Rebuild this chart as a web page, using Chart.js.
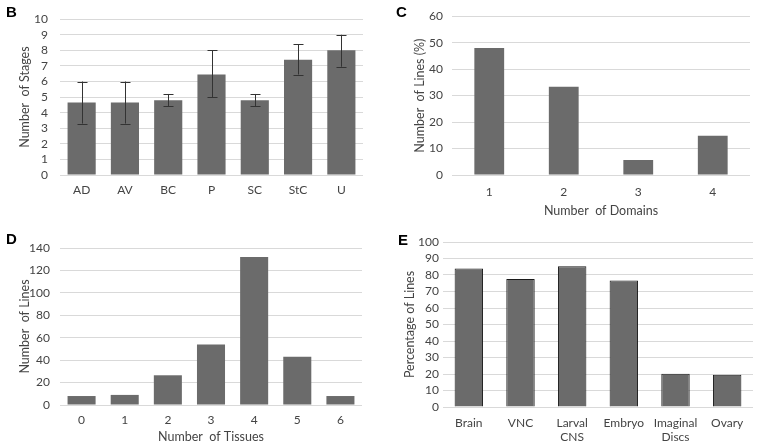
<!DOCTYPE html>
<html>
<head>
<meta charset="utf-8">
<script src="https://cdn.jsdelivr.net/npm/chart.js@4.4.0/dist/chart.umd.min.js"></script>
<style>
  body { margin: 0; background: #fff; }
  .panel { position: absolute; }
  .tag { position: absolute; font: bold 15px "Liberation Sans", Arial, sans-serif; color: #000; }
</style>
</head>
<body>
<div class="panel" style="left:0;top:0;width:378px;height:220px"><canvas id="chartB"></canvas></div>
<div class="panel" style="left:380px;top:0;width:377px;height:220px"><canvas id="chartC"></canvas></div>
<div class="panel" style="left:0;top:220px;width:378px;height:227px"><canvas id="chartD"></canvas></div>
<div class="panel" style="left:380px;top:220px;width:377px;height:227px"><canvas id="chartE"></canvas></div>
<div class="tag" style="left:6px;top:3px">B</div>
<div class="tag" style="left:396px;top:3px">C</div>
<div class="tag" style="left:6px;top:230px">D</div>
<div class="tag" style="left:398px;top:231px">E</div>
<script>
// panel B - stages per category, with error bars
const stageCats = ["AD", "AV", "BC", "P", "SC", "StC", "U"];
const stageMeans = [4.65, 4.65, 4.8, 6.45, 4.8, 7.4, 8.0];
const stageLow = [3.3, 3.3, 4.4, 5.0, 4.4, 6.45, 6.95];
const stageHigh = [6.0, 6.0, 5.2, 8.0, 5.2, 8.4, 9.0];

// panel C - domains
const domainCats = ["1", "2", "3", "4"];
const domainPct = [48, 33.3, 5.7, 14.8];

// panel D - tissues
const tissueCats = ["0", "1", "2", "3", "4", "5", "6"];
const tissueLines = [8, 9, 26.5, 54, 132, 43, 8];

// panel E - tissue types
const tissueTypes = ["Brain", "VNC", ["Larval", "CNS"], "Embryo", ["Imaginal", "Discs"], "Ovary"];
const tissuePct = [84, 77.6, 85.3, 76.7, 20.2, 19.6];

const FONT = "Lato, 'Open Sans', sans-serif";
const TEXT = "#444";
const GRID = "#d9d9d9";
const BAR = "#6b6b6b";

Chart.defaults.font.family = FONT;
Chart.defaults.color = TEXT;
Chart.defaults.animation = false;

// draws the error bars for panel B from stageLow / stageHigh
const errorBars = {
  id: "errorBars",
  afterDatasetsDraw(chart) {
    const ctx = chart.ctx;
    const meta = chart.getDatasetMeta(0);
    const y = chart.scales.y;
    ctx.save();
    ctx.strokeStyle = "#333";
    ctx.lineWidth = 1;
    meta.data.forEach((bar, i) => {
      const x = Math.round(bar.x) + 0.5;
      const top = y.getPixelForValue(stageHigh[i]);
      const bot = y.getPixelForValue(stageLow[i]);
      ctx.beginPath();
      ctx.moveTo(x, top);
      ctx.lineTo(x, bot);
      ctx.moveTo(x - 5, Math.round(top) + 0.5);
      ctx.lineTo(x + 5, Math.round(top) + 0.5);
      ctx.moveTo(x - 5, Math.round(bot) + 0.5);
      ctx.lineTo(x + 5, Math.round(bot) + 0.5);
      ctx.stroke();
    });
    ctx.restore();
  },
};

function makeChart(id, p) {
  const ctx = document.getElementById(id).getContext("2d");
  return new Chart(ctx, {
    type: "bar",
    data: {
      labels: p.labels,
      datasets: [
        {
          data: p.data,
          backgroundColor: BAR,
          borderColor: p.border ? "#1a1a1a" : BAR,
          borderWidth: p.border ? 1 : 0,
          barPercentage: p.barPct,
          categoryPercentage: 1,
        },
      ],
    },
    options: {
      responsive: true,
      maintainAspectRatio: false,
      layout: { autoPadding: false, padding: p.padding },
      plugins: { legend: { display: false }, tooltip: { enabled: false } },
      scales: {
        x: {
          grid: { display: false, drawTicks: false },
          border: { display: false },
          ticks: { font: { size: 12 }, padding: p.xPad, maxRotation: 0, autoSkip: false },
          title: p.xTitle
            ? { display: true, text: p.xTitle, font: { size: 12.5 }, padding: { top: 0, bottom: p.xTitleOff } }
            : { display: false },
          afterFit: (s) => { s.height = p.xHeight; },
        },
        y: {
          min: 0,
          max: p.max,
          ticks: { stepSize: p.step, font: { size: 12 }, padding: p.yPad, autoSkip: false },
          grid: { color: GRID, drawTicks: false },
          border: { display: false },
          title: {
            display: true,
            text: p.yTitle,
            font: { size: 12.5 },
            padding: { top: p.titleOff, bottom: 0 },
          },
          afterFit: (s) => { s.width = p.yWidth; },
        },
      },
    },
    plugins: p.plugins || [],
  });
}

makeChart("chartB", {
  labels: stageCats, data: stageMeans, barPct: 0.65,
  max: 10, step: 1, yTitle: "Number  of Stages", titleOff: 17,
  padding: { top: 10, right: 15, left: 0, bottom: 0 },
  yWidth: 60, xHeight: 45, yPad: 12, xPad: 8,
  plugins: [errorBars],
});

makeChart("chartC", {
  labels: domainCats, data: domainPct, barPct: 0.4,
  max: 60, step: 10, yTitle: "Number  of Lines (%)", titleOff: 32,
  xTitle: "Number  of Domains", xTitleOff: 2,
  padding: { top: 10, right: 7, left: 0, bottom: 0 },
  yWidth: 72, xHeight: 45, yPad: 9, xPad: 10,
});

makeChart("chartD", {
  labels: tissueCats, data: tissueLines, barPct: 0.65,
  max: 140, step: 20, yTitle: "Number  of Lines", titleOff: 17,
  xTitle: "Number  of Tissues", xTitleOff: 3,
  padding: { top: 28, right: 16, left: 0, bottom: 0 },
  yWidth: 60, xHeight: 42, yPad: 10, xPad: 8,
});

makeChart("chartE", {
  labels: tissueTypes, data: tissuePct, barPct: 0.55, border: true,
  max: 100, step: 10, yTitle: "Percentage of Lines", titleOff: 22,
  padding: { top: 22, right: 4, left: 0, bottom: 0 },
  yWidth: 63, xHeight: 40, yPad: 4, xPad: 9,
});
</script>
</body>
</html>
